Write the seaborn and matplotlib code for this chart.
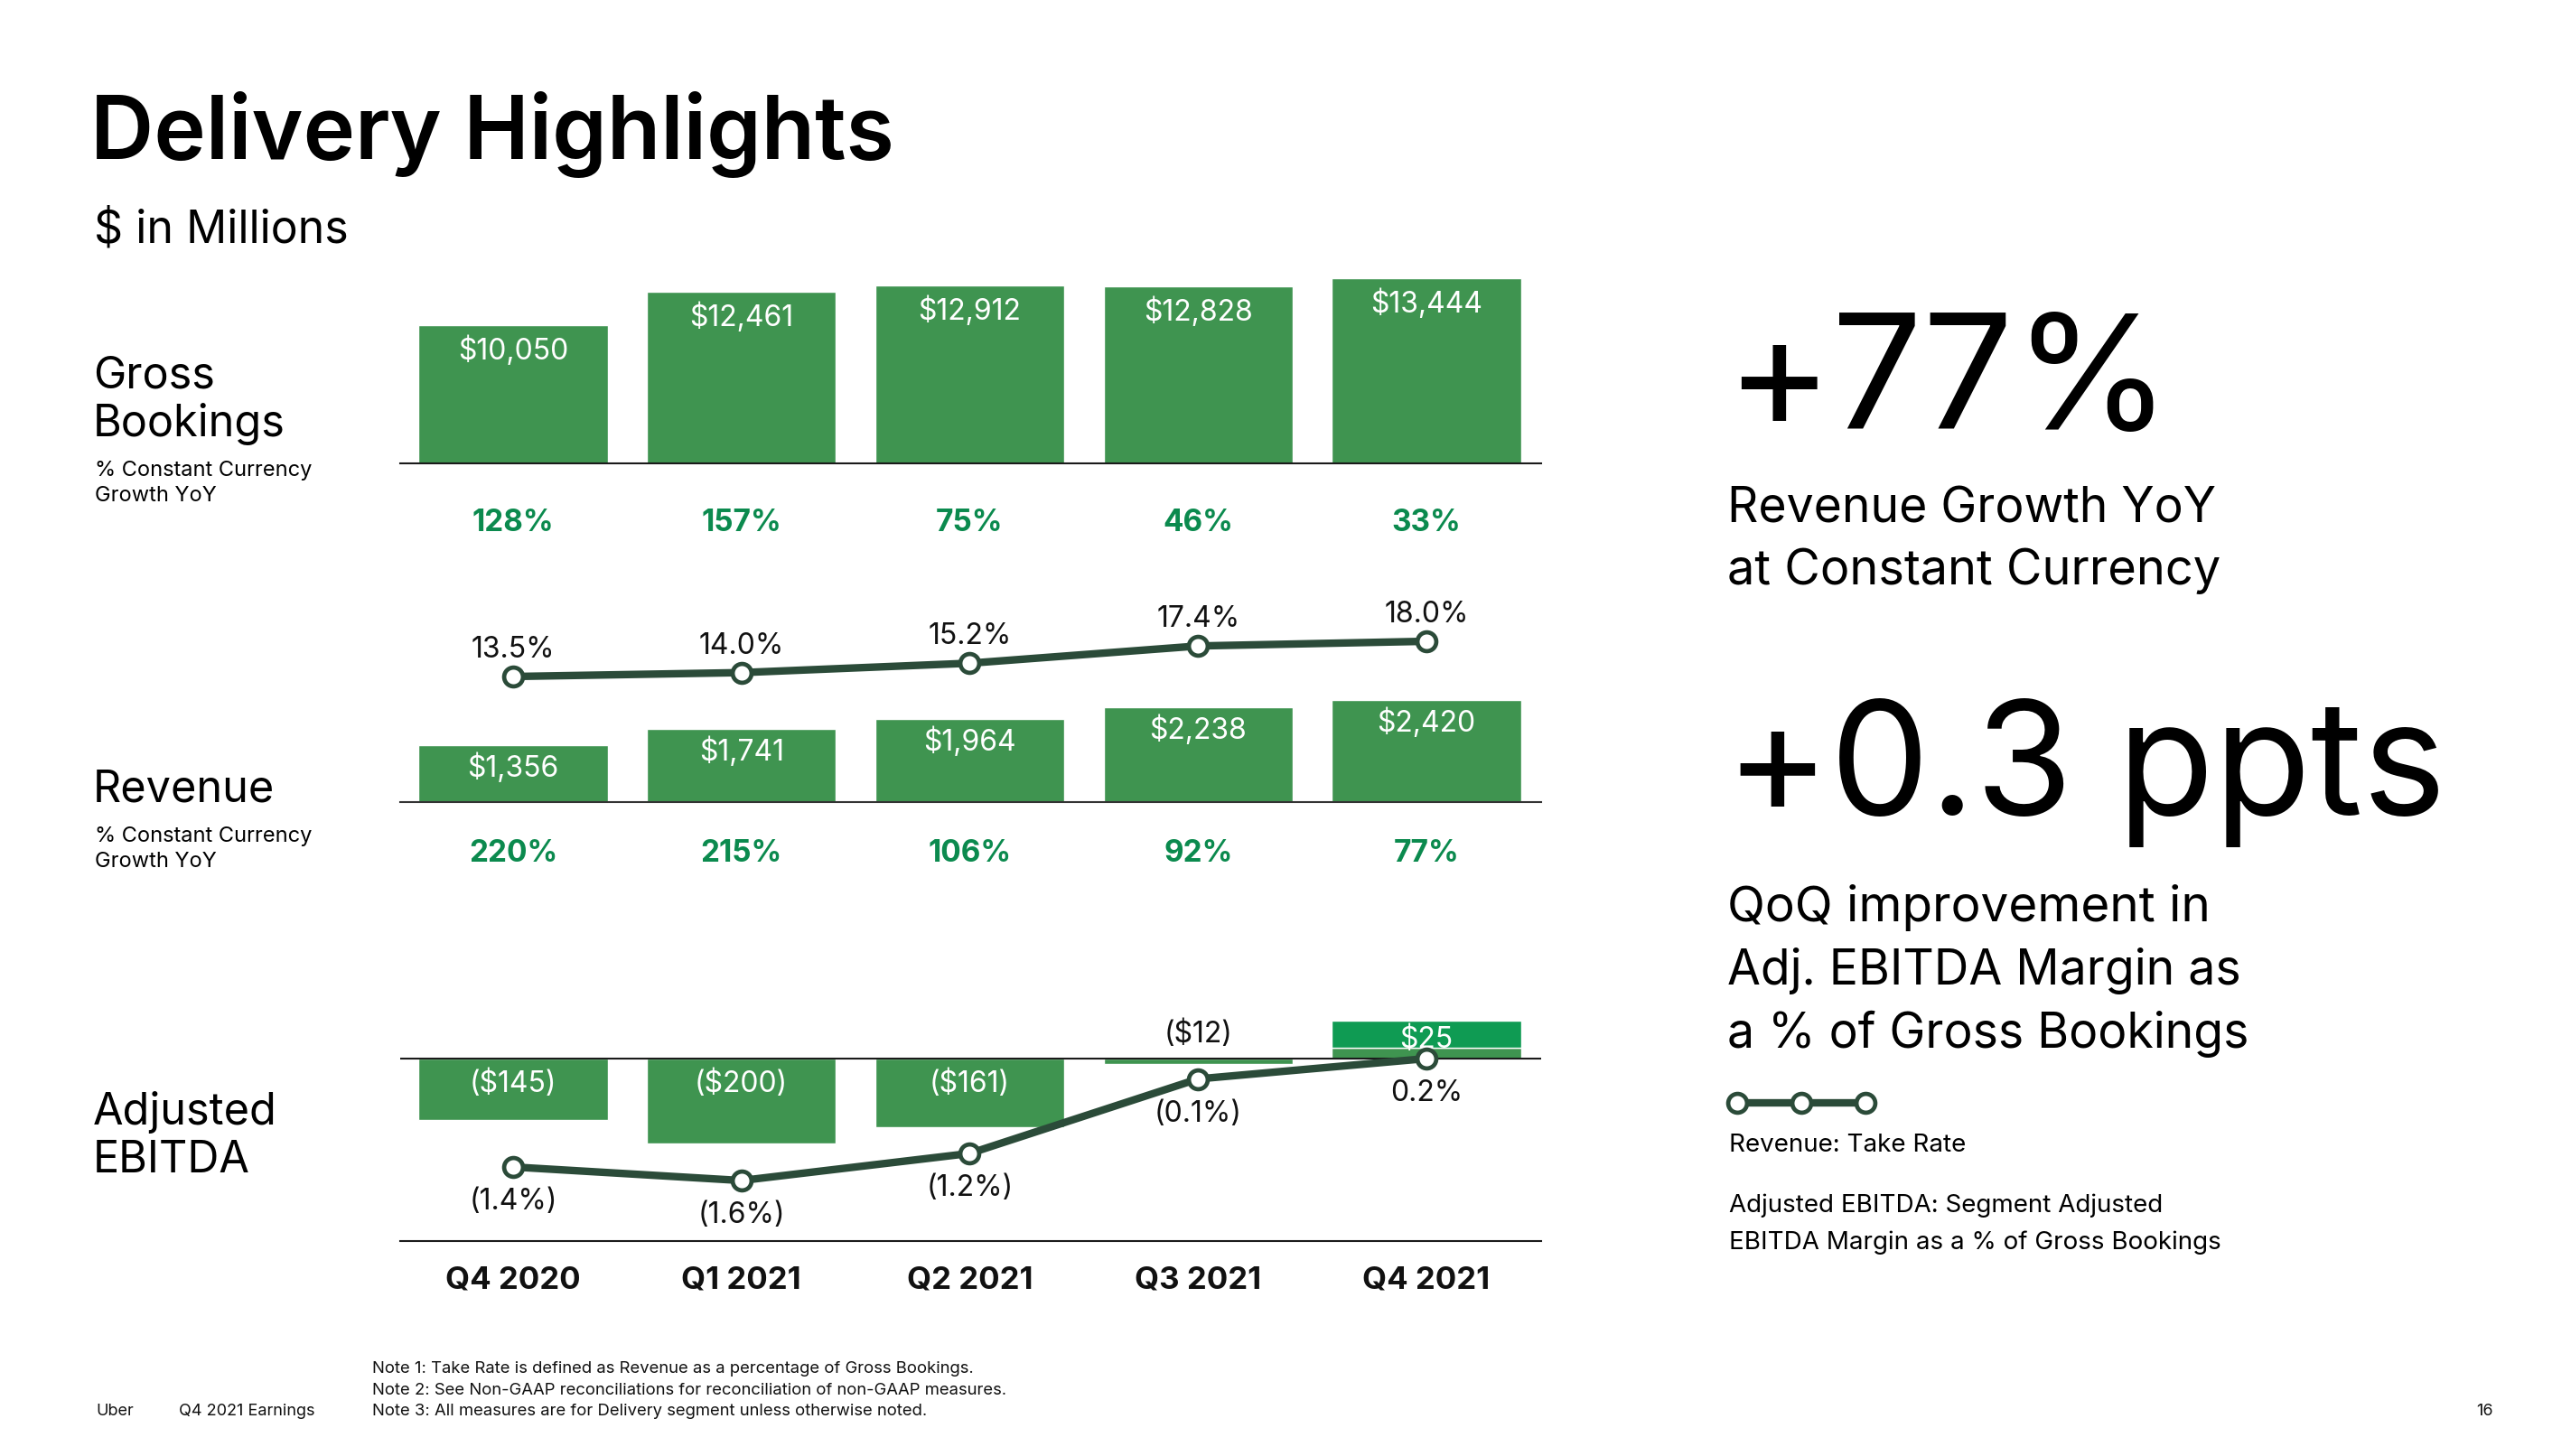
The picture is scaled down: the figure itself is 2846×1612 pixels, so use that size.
import matplotlib
matplotlib.use("Agg")
import matplotlib.pyplot as plt
import seaborn as sns
import numpy as np
from matplotlib.lines import Line2D

# ---------------- data ----------------
quarters = ["Q4 2020", "Q1 2021", "Q2 2021", "Q3 2021", "Q4 2021"]
gross_bookings = [10050, 12461, 12912, 12828, 13444]
gb_growth = [128, 157, 75, 46, 33]
revenue = [1356, 1741, 1964, 2238, 2420]
rev_growth = [220, 215, 106, 92, 77]
take_rate = [13.5, 14.0, 15.2, 17.4, 18.0]
adj_ebitda = [-145, -200, -161, -12, 25]
ebitda_margin = [-1.4, -1.6, -1.2, -0.1, 0.2]

# ---------------- style ----------------
W, H = 2846, 1612
BAR = "#3f9450"
HIGHLIGHT = "#0f9b53"
GREEN_TXT = "#0b8a4e"
LINE = "#2b4b39"
AXLINE = "#1a1a1a"

sns.set_theme(style="white")
plt.rcParams["font.family"] = ["Inter", "DejaVu Sans"]

fig = plt.figure(figsize=(W / 100, H / 100), dpi=100)
fig.patch.set_facecolor("white")

X_LEFT, X_RIGHT = 443, 1706
C0, PITCH = 568, 252.75
XLIM = ((X_LEFT - C0) / PITCH, 4 + (X_RIGHT - (C0 + 4 * PITCH)) / PITCH)
xs = np.arange(len(quarters))


def px2pt(p):
    return p * 0.72


def add_ax(top, bottom):
    ax = fig.add_axes([X_LEFT / W, 1 - bottom / H, (X_RIGHT - X_LEFT) / W, (bottom - top) / H])
    ax.patch.set_alpha(0)
    return ax


def clean(ax, bottom=True):
    for s in ["left", "right", "top"]:
        ax.spines[s].set_visible(False)
    ax.spines["bottom"].set_visible(bottom)
    ax.spines["bottom"].set_color(AXLINE)
    ax.spines["bottom"].set_linewidth(1.5)
    ax.set_xticks([])
    ax.set_yticks([])
    ax.set_xlabel("")
    ax.set_ylabel("")
    ax.set_xlim(*XLIM)


def ftext(x, y, s, size, **kw):
    kw.setdefault("va", "baseline")
    kw.setdefault("ha", "left")
    fig.text(x / W, 1 - y / H, s, fontsize=size, **kw)


def draw_line(ax, vals):
    sns.lineplot(x=xs, y=vals, ax=ax, color=LINE, linewidth=6, marker="o",
                 markersize=15, markerfacecolor="white", markeredgecolor=LINE,
                 markeredgewidth=3.4, zorder=5)


def lab(ax, i, y, s, off_px, color="white", size=23, weight="normal"):
    ax.annotate(s, xy=(i, y), xytext=(0, px2pt(off_px)), textcoords="offset points",
                ha="center", va="baseline", color=color, fontsize=size, fontweight=weight,
                zorder=10)


# ---------------- Gross Bookings ----------------
ax_gb = add_ax(290, 513)
sns.barplot(x=xs, y=gross_bookings, native_scale=True, width=0.827, color=BAR,
            saturation=1, errorbar=None, ax=ax_gb)
clean(ax_gb)
ax_gb.set_ylim(0, 223 / 0.01525)
for i, v in enumerate(gross_bookings):
    lab(ax_gb, i, v, f"${v:,}", -38)
    lab(ax_gb, i, 0, f"{gb_growth[i]}%", -75, color=GREEN_TXT, size=24, weight="bold")

# ---------------- Revenue ----------------
ax_rev = add_ax(690, 888)
sns.barplot(x=xs, y=revenue, native_scale=True, width=0.827, color=BAR,
            saturation=1, errorbar=None, ax=ax_rev)
clean(ax_rev)
ax_rev.spines["bottom"].set_color("#333333")
ax_rev.set_ylim(0, 198 / 0.0467)
for i, v in enumerate(revenue):
    lab(ax_rev, i, v, f"${v:,}", -35)
    lab(ax_rev, i, 0, f"{rev_growth[i]}%", -66, color=GREEN_TXT, size=24, weight="bold")

tw_rev = ax_rev.twinx()
draw_line(tw_rev, take_rate)
clean(tw_rev, bottom=False)
tw_rev.set_ylim(13.5 - (888 - 749) / 8.67, 13.5 + (749 - 690) / 8.67)
for i, v in enumerate(take_rate):
    lab(tw_rev, i, v, f"{v:.1f}%", 21, color="#111111")

# ---------------- Adjusted EBITDA ----------------
ax_eb = add_ax(1100, 1374)
sns.barplot(x=xs, y=adj_ebitda, native_scale=True, width=0.827, color=BAR,
            saturation=1, errorbar=None, ax=ax_eb)
clean(ax_eb)
PXU = 0.472
ax_eb.set_ylim(-(1374 - 1172) / PXU, (1172 - 1100) / PXU)
# highlight label box sitting on top of the positive bar
pos_idx = [i for i, v in enumerate(adj_ebitda) if v > 0]
LABEL_BOX = 64
ax_eb.bar([xs[i] for i in pos_idx], [LABEL_BOX] * len(pos_idx),
          bottom=[adj_ebitda[i] for i in pos_idx], width=0.827, color=HIGHLIGHT, zorder=2)
ax_eb.axhline(0, color=AXLINE, linewidth=1.5, zorder=3)
for i, v in enumerate(adj_ebitda):
    if v < -50:
        lab(ax_eb, i, 0, f"(${abs(v)})", -37)
    elif v < 0:
        lab(ax_eb, i, 0, f"(${abs(v)})", 18, color="#111111")
    else:
        lab(ax_eb, i, 0, f"${v}", 12)
for i, q in enumerate(quarters):
    ax_eb.annotate(q, xy=(i, 0), xycoords=("data", "axes fraction"),
                   xytext=(0, px2pt(-53)), textcoords="offset points",
                   ha="center", va="baseline", fontsize=25, fontweight="bold", color="#111111")

tw_eb = ax_eb.twinx()
draw_line(tw_eb, ebitda_margin)
clean(tw_eb, bottom=False)
tw_eb.set_ylim(0.2 - (1374 - 1172) / 75, 0.2 + (1172 - 1100) / 75)
for i, v in enumerate(ebitda_margin):
    s = f"({abs(v):.1f}%)" if v < 0 else f"{v:.1f}%"
    lab(tw_eb, i, v, s, -47, color="#111111")

# ---------------- titles & left labels ----------------
ftext(100, 176, "Delivery Highlights", 70, fontweight="semibold", color="black")
ftext(104, 269, "$ in Millions", 36, color="black")

ftext(103, 430, "Gross", 35, color="black")
ftext(103, 483, "Bookings", 35, color="black")
ftext(105, 527, "% Constant Currency", 17, color="black")
ftext(105, 555, "Growth YoY", 17, color="black")

ftext(103, 888, "Revenue", 35, color="black")
ftext(105, 932, "% Constant Currency", 17, color="black")
ftext(105, 960, "Growth YoY", 17, color="black")

ftext(103, 1245, "Adjusted", 35, color="black")
ftext(103, 1298, "EBITDA", 35, color="black")

# ---------------- right panel ----------------
ftext(1910, 475, "+77%", 128, color="black")
ftext(1912, 579, "Revenue Growth YoY", 38.5, color="black")
ftext(1912, 647, "at Constant Currency", 39, color="black")
ftext(1910, 902, "+0.3 ppts", 126, color="black")
ftext(1912, 1020, "QoQ improvement in", 39.5, color="black")
ftext(1912, 1090, "Adj. EBITDA Margin as", 38.5, color="black")
ftext(1912, 1160, "a % of Gross Bookings", 38.5, color="black")

key = Line2D([1923 / W, 1994 / W, 2065 / W], [1 - 1221 / H] * 3, transform=fig.transFigure,
             color=LINE, linewidth=6, marker="o", markersize=15, markerfacecolor="white",
             markeredgecolor=LINE, markeredgewidth=3.4)
fig.add_artist(key)
ftext(1914, 1275, "Revenue: Take Rate", 20, color="black")
ftext(1914, 1342, "Adjusted EBITDA: Segment Adjusted", 20, color="black")
ftext(1914, 1383, "EBITDA Margin as a % of Gross Bookings", 20, color="black")

# ---------------- footer ----------------
ftext(106, 1567, "Uber", 13, color="#111111")
ftext(198, 1567, "Q4 2021 Earnings", 13, color="#111111")
ftext(412, 1520, "Note 1: Take Rate is defined as Revenue as a percentage of Gross Bookings.", 13.3, color="#111111")
ftext(412, 1544, "Note 2: See Non-GAAP reconciliations for reconciliation of non-GAAP measures.", 13.3, color="#111111")
ftext(412, 1567, "Note 3: All measures are for Delivery segment unless otherwise noted.", 13.3, color="#111111")
ftext(2760, 1567, "16", 13, color="#111111", ha="right")

fig.savefig("out.png", dpi=100, facecolor="white")
